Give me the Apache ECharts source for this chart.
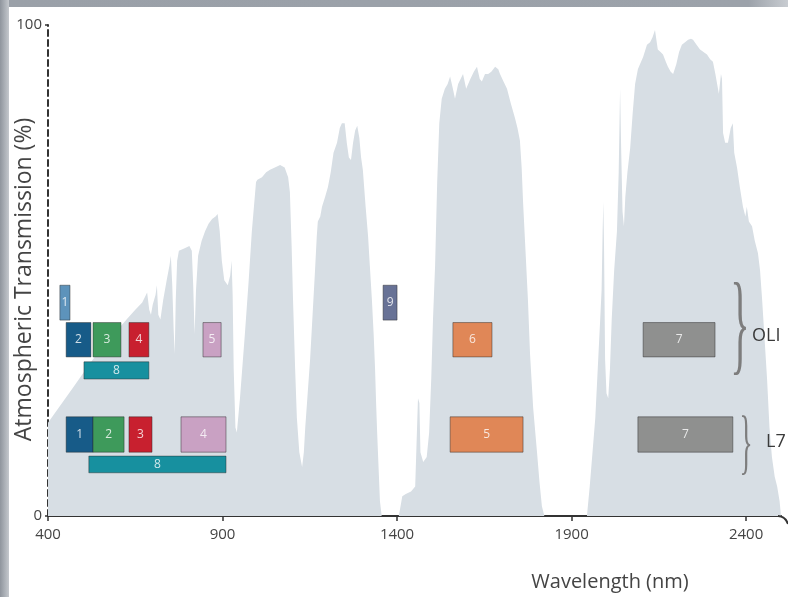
<!DOCTYPE html>
<html>
<head>
<meta charset="utf-8">
<script src="https://cdn.jsdelivr.net/npm/echarts@6/dist/echarts.min.js"></script>
<style>
  html, body { margin: 0; padding: 0; background: #fff; }
  #main { width: 788px; height: 597px; }
</style>
</head>
<body>
<div id="main"></div>
<script>
// atmospheric transmission curve (nm, %)
var wavelengthNm = [
  400, 425, 450, 475, 500, 525, 550, 575, 600, 625, 650, 670, 684, 690, 695, 700, 708, 712, 716, 722,
  730, 740, 748, 752, 756, 760, 763, 766, 770, 775, 790, 805, 812, 816, 820, 824, 830, 840, 850, 860,
  870, 880, 886, 892, 898, 905, 915, 922, 926, 929, 932, 937, 941, 950, 964, 975, 984, 996,
  1000, 1013, 1025, 1036, 1050, 1065, 1078, 1088, 1093, 1098, 1102, 1108, 1113, 1120, 1128, 1133, 1137, 1144,
  1151, 1158, 1165, 1170, 1173, 1180, 1185, 1194, 1202, 1210, 1218, 1228, 1236, 1242, 1250, 1256, 1262, 1268,
  1274, 1280, 1286, 1292, 1297, 1302, 1310, 1317, 1322, 1328, 1333, 1337, 1340, 1343, 1347, 1351, 1356,
  1405, 1410, 1415, 1425, 1440, 1452, 1456, 1460, 1464, 1467, 1475, 1485, 1492, 1498, 1503, 1509, 1515, 1521,
  1528, 1537, 1545, 1552, 1560, 1566, 1575, 1589, 1598, 1610, 1620, 1629, 1637, 1643, 1652, 1661, 1670, 1681,
  1690, 1695, 1705, 1715, 1726, 1738, 1745, 1752, 1757, 1761, 1768, 1775, 1781, 1790, 1801, 1808, 1815, 1822,
  1944, 1952, 1960, 1968, 1975, 1982, 1986, 1989, 1991, 1993, 1996, 2000, 2005, 2010, 2015, 2022, 2030, 2035,
  2039, 2042, 2046, 2050, 2054, 2060, 2068, 2075, 2082, 2090, 2096, 2105, 2116, 2125, 2132, 2139, 2143, 2147,
  2155, 2162, 2170, 2176, 2184, 2191, 2200, 2208, 2216, 2225, 2234, 2242, 2248, 2258, 2268, 2278, 2288, 2297,
  2305, 2312, 2317, 2322, 2328, 2331, 2334, 2340, 2348, 2356, 2362, 2366, 2374, 2382, 2391, 2398, 2402, 2408,
  2417, 2425, 2434, 2440, 2446, 2453, 2460, 2467, 2474, 2482, 2489, 2496, 2500
];
var transmissionPct = [
  19, 21.5, 24, 26.5, 29, 31.5, 34, 36, 38, 40, 42, 43.5, 45.5, 42, 41, 43, 45, 47, 41, 40,
  44, 48, 51, 53, 47, 38, 33, 44, 52, 54, 54.5, 55, 54, 47, 37, 46, 53, 56, 58, 59.5,
  60.5, 61, 61.5, 58, 52, 48, 47, 49, 52, 45, 30, 18, 17, 24, 37, 48, 58, 68,
  68.5, 69, 70, 70.5, 71, 71.5, 71, 69, 66, 55, 44, 30, 20, 13, 10, 13, 18, 25,
  32, 41, 50, 57, 60, 61, 63, 65, 67, 70, 74, 76, 79, 80, 80, 76, 73, 72.5,
  76, 78.5, 79.5, 77, 73, 70.5, 63, 57, 51, 44, 37, 30, 23, 17, 10, 3, 0,
  0, 2, 4, 4.5, 5, 6, 15, 24, 23, 13, 11, 12, 17, 28, 40, 51, 68, 80,
  85, 87, 88, 89.5, 87, 85, 88, 90, 87, 89, 90.5, 91.5, 89, 88.5, 90, 90, 90.5, 91.5,
  91, 90, 88.5, 87, 84, 81, 79, 76.5, 71, 64, 54, 44, 33, 22, 13, 7, 2, 0,
  0, 6, 13, 20, 30, 40, 46, 58, 64, 55, 32, 25, 24, 30, 40, 50, 58, 70,
  87, 75, 62, 59, 65, 70, 75, 82, 88, 91, 92, 93.5, 96, 96.5, 97.5, 99, 97, 95,
  94.5, 94, 92.5, 91.5, 90.5, 90, 92, 94.5, 96, 96.5, 97, 97.2, 97, 96, 95, 94.5, 94, 93,
  92.5, 90, 88, 86, 90, 89, 78, 76, 76, 79, 80, 74, 71, 67, 63, 61, 63, 60,
  59, 56, 53.5, 50, 44, 36, 28, 18, 12, 8, 6, 3, 0
];

// sensor bands (start nm, end nm), which row they sit in
var bandLabels = ['1', '2', '3', '4', '5', '8', '9', '6', '7',
                  '1', '2', '3', '4', '8', '5', '7'];
var bandStart = [434, 452, 529, 632, 844, 503, 1360, 1560, 2105,
                 452, 529, 632, 781, 517, 1552, 2090];
var bandEnd   = [463, 523, 609, 689, 896, 689, 1400, 1672, 2311,
                 529, 618, 698, 910, 910, 1761, 2362];
var bandRow   = ['oliHigh', 'oli', 'oli', 'oli', 'oli', 'oliPan', 'oliHigh', 'oli', 'oli',
                 'l7', 'l7', 'l7', 'l7', 'l7Pan', 'l7', 'l7'];

var xTicks = [400, 900, 1400, 1900, 2400];
var yTicks = [0, 100];

// row extents in % units
var rowRange = {
  oliHigh: [39.9, 47.0],
  oli: [32.4, 39.4],
  oliPan: [27.9, 31.4],
  l7: [13.0, 20.2],
  l7Pan: [8.8, 12.2]
};
var bandColor = [
  '#5d93bb', '#175b88', '#3e9a5b', '#c8202f', '#c9a1c3', '#17909f', '#687296', '#e08757', '#8f908f',
  '#175b88', '#3e9a5b', '#c8202f', '#c9a1c3', '#17909f', '#e08757', '#8f908f'
];

var curve = wavelengthNm.map(function (w, i) { return [w, transmissionPct[i]]; });
var bands = bandStart.map(function (s, i) {
  var r = rowRange[bandRow[i]];
  return [s, bandEnd[i], r[0], r[1]];
});

var chart = echarts.init(document.getElementById('main'));
var txt = '#444';
var font = 'Open Sans';

var option = {
  animation: false,
  grid: { left: 48, right: 7, top: 25, bottom: 81, outerBoundsMode: 'none' },
  xAxis: {
    type: 'value',
    min: 400,
    max: 2500,
    axisLine: { lineStyle: { color: '#333', width: 2 } },
    axisTick: { show: true, length: 5, customValues: xTicks, lineStyle: { color: '#333', width: 1.5 } },
    axisLabel: {
      customValues: xTicks, color: txt, fontSize: 15, fontFamily: font, margin: 11,
      formatter: function (v) { return String(v); }
    },
    splitLine: { show: false }
  },
  yAxis: {
    type: 'value',
    min: 0,
    max: 100,
    name: 'Atmospheric Transmission (%)',
    nameLocation: 'middle',
    nameGap: 12,
    nameMoveOverlap: false,
    nameTextStyle: { color: txt, fontSize: 23, fontFamily: font, padding: [0, 18, 0, 0] },
    axisLine: { show: true, lineStyle: { color: '#333', width: 2, type: [6, 4] } },
    axisTick: { show: true, length: 3, customValues: yTicks, lineStyle: { color: '#333', width: 1.5 } },
    axisLabel: { customValues: yTicks, color: txt, fontSize: 15, fontFamily: font, margin: 6 },
    splitLine: { show: false }
  },
  series: [
    {
      type: 'line',
      data: curve,
      symbol: 'none',
      lineStyle: { width: 0 },
      areaStyle: { color: '#d7dee4', opacity: 1 },
      z: 1
    },
    {
      type: 'custom',
      data: bands,
      encode: { x: [0, 1], y: [2, 3] },
      z: 3,
      renderItem: function (params, api) {
        var p0 = api.coord([api.value(0), api.value(3)]);
        var p1 = api.coord([api.value(1), api.value(2)]);
        var i = params.dataIndex;
        return {
          type: 'rect',
          shape: { x: p0[0], y: p0[1], width: p1[0] - p0[0], height: p1[1] - p0[1] },
          style: { fill: bandColor[i], stroke: 'rgba(40,40,40,0.45)', lineWidth: 1 },
          textContent: {
            style: {
              text: bandLabels[i],
              fill: 'rgba(255,255,255,0.8)',
              fontSize: 12,
              fontFamily: font
            }
          },
          textConfig: { position: 'inside' }
        };
      }
    }
  ],
  graphic: [
    // slide frame
    { type: 'rect', left: 0, top: 0, z: -5, shape: { width: 788, height: 7 },
      style: { fill: new echarts.graphic.LinearGradient(0, 0, 1, 0, [
        { offset: 0, color: '#9aa0a8' }, { offset: 0.95, color: '#9ca2aa' }, { offset: 1, color: '#c8ccd1' }]) } },
    { type: 'rect', left: 0, top: 0, z: -5, shape: { width: 9, height: 597 },
      style: { fill: new echarts.graphic.LinearGradient(0, 0, 1, 0, [
        { offset: 0, color: '#8f959d' }, { offset: 1, color: '#c4c8cd' }]) } },
    // axis end hook
    { type: 'bezierCurve', z: 10, shape: { x1: 778, y1: 516, x2: 788, y2: 524, cpx1: 785, cpy1: 516 },
      style: { stroke: '#333', lineWidth: 2, fill: null } },
    // braces + sensor names
    { type: 'text', z: 10, x: 740, y: 331, scaleX: 0.36,
      style: { text: '}', fontSize: 112, fontFamily: 'Liberation Serif', fill: '#7d7d7d',
        textAlign: 'center', textVerticalAlign: 'middle' } },
    { type: 'text', z: 10, x: 752, y: 336,
      style: { text: 'OLI', fontSize: 18, fontFamily: font, fill: '#3a3a3a', textVerticalAlign: 'middle' } },
    { type: 'text', z: 10, x: 746, y: 446, scaleX: 0.38,
      style: { text: '}', fontSize: 72, fontFamily: 'Liberation Serif', fill: '#7d7d7d',
        textAlign: 'center', textVerticalAlign: 'middle' } },
    { type: 'text', z: 10, x: 766, y: 442,
      style: { text: 'L7', fontSize: 18, fontFamily: font, fill: '#3a3a3a', textVerticalAlign: 'middle' } },
    // x axis name
    { type: 'text', z: 10, x: 610, y: 582,
      style: { text: 'Wavelength (nm)', fontSize: 20, fontFamily: font, fill: txt,
        textAlign: 'center', textVerticalAlign: 'middle' } }
  ]
};

chart.setOption(option);
</script>
</body>
</html>
